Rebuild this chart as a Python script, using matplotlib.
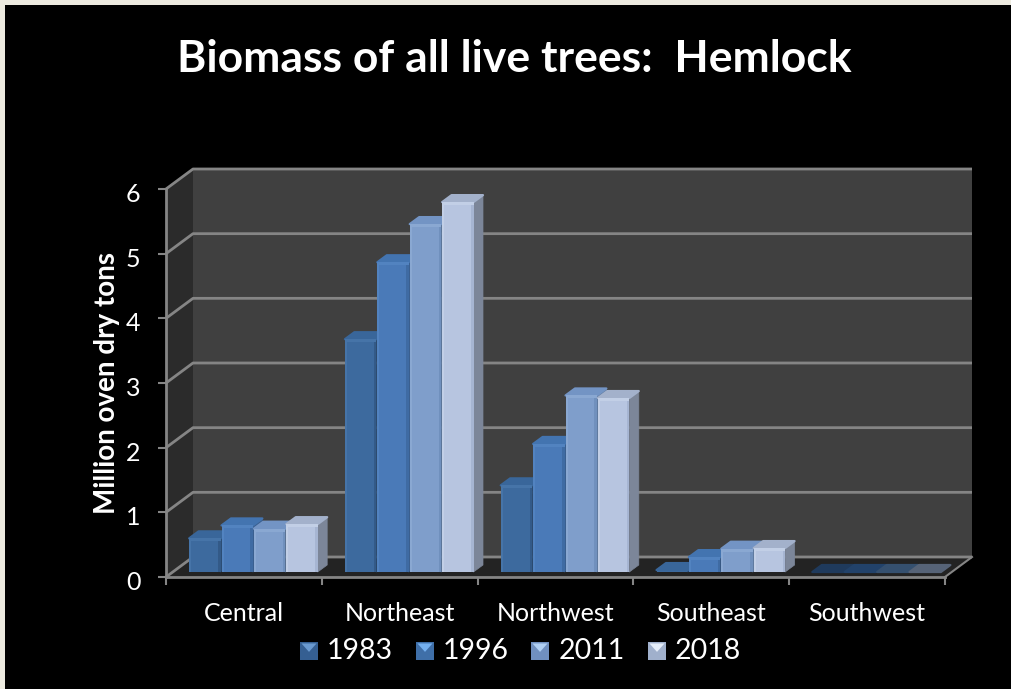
import matplotlib
matplotlib.use("Agg")
import matplotlib.pyplot as plt
from matplotlib.patches import Polygon, Rectangle
from matplotlib.transforms import ScaledTranslation

categories = ["Central", "Northeast", "Northwest", "Southeast", "Southwest"]
years = ["1983", "1996", "2011", "2018"]
v1983 = [0.52, 3.60, 1.34, 0.03, 0.0]
v1996 = [0.72, 4.79, 1.98, 0.23, 0.0]
v2011 = [0.67, 5.38, 2.73, 0.36, 0.0]
v2018 = [0.74, 5.72, 2.69, 0.37, 0.0]
series = [v1983, v1996, v2011, v2018]
yticks = [0, 1, 2, 3, 4, 5, 6]

W, H = 1011, 689
face = ["#3d6a9e", "#4a7ab8", "#7f9ecb", "#b7c5e0"]
top = ["#39669a", "#4374b0", "#7394c4", "#a3b1cb"]
side = ["#2c4d74", "#3a5f8f", "#5f7a9f", "#7c8699"]
hi = ["#4674a8", "#5283c0", "#8aa8d2", "#c2cfe6"]
lo = ["#335a88", "#3f6ba3", "#7090bd", "#a6b5d2"]
floor_top = ["#1f3a5c", "#22426a", "#35506f", "#566377"]
legend_hi = ["#6a9ad0", "#74b0f0", "#b0d0f4", "#e4ecf8"]
legend_lo = ["#355f92", "#3f6fa8", "#7090c0", "#a0b0cc"]

plt.rcParams["font.family"] = ["Lato", "DejaVu Sans"]
fig = plt.figure(figsize=(W / 100, H / 100), dpi=100, facecolor="#edebe0")


def box(x0, x1, ytop, ybot):
    return [x0 / W, 1 - ybot / H, (x1 - x0) / W, (ybot - ytop) / H]


# black slide panel
bg = fig.add_axes(box(5, 1011, 5, 689))
bg.set_facecolor("black")
bg.set_xticks([])
bg.set_yticks([])
for s in bg.spines.values():
    s.set_visible(False)

# front plane with axis scales
ax = fig.add_axes(box(166, 945, 189, 577), facecolor="none")
ax.set_xlim(0, 5)
ax.set_ylim(0, 6)
PX = 5 / 779
PY = 6 / 388
DX, DY = 27 * PX, 20 * PY

ax.add_patch(Polygon([(DX, DY), (5 + DX, DY), (5 + DX, 6 + DY), (DX, 6 + DY)],
                     fc="#404040", ec="none", clip_on=False, zorder=1))
ax.add_patch(Polygon([(0, 0), (DX, DY), (DX, 6 + DY), (0, 6)],
                     fc="#2b2b2b", ec="none", clip_on=False, zorder=1))
ax.add_patch(Polygon([(0, 0), (5, 0), (5 + DX, DY), (DX, DY)],
                     fc="#232323", ec="none", clip_on=False, zorder=1))
for t in yticks:
    ax.plot([0, DX, 5 + DX], [t, t + DY, t + DY], color="#858585", lw=2.0,
            clip_on=False, zorder=2, solid_capstyle="butt")
ax.plot([5, 5 + DX], [0, DY], color="#858585", lw=1.5, clip_on=False, zorder=2)

ax.set_xticks(range(6))
ax.set_xticklabels([])
ax.set_xticks([i + 0.5 for i in range(5)], categories, minor=True)
ax.set_yticks(yticks)
ax.tick_params(axis="x", which="major", length=6, width=1.5, color="#858585")
ax.tick_params(axis="x", which="minor", length=0, pad=18, labelsize=18, labelcolor="white")
ax.tick_params(axis="y", length=6, width=1.5, color="#858585", labelsize=18,
               labelcolor="white", pad=12.5)
for lab in ax.get_yticklabels():
    lab.set_transform(lab.get_transform() + ScaledTranslation(0, -2.5 / 72, fig.dpi_scale_trans))
for name, s in ax.spines.items():
    s.set_visible(name in ("left", "bottom"))
    s.set_color("#858585")
    s.set_linewidth(2)
ax.set_ylabel("Million oven dry tons", fontsize=20, fontweight="bold", color="white")
ax.yaxis.set_label_coords(-0.059, 0.499)

# plane the bars stand on
bx = fig.add_axes(box(175.5, 954.5, 184, 572), facecolor="none")
bx.set_xlim(0, 5)
bx.set_ylim(0, 6)
bx.axis("off")
BW = 32.4 * PX
DPX, DPY = 9.5 * PX, 7 * PY
for k, vals in enumerate(series):
    off = (k - 2) * BW + BW / 2
    xs = [i + 0.5 + off for i in range(5)]
    bx.bar(xs, vals, width=BW - 1 * PX, color=face[k], zorder=3 + k * 0.1, clip_on=False)
    for x, v in zip(xs, vals):
        x0, x1 = x - BW / 2 + 0.5 * PX, x + BW / 2 - 0.5 * PX
        z = 3 + k * 0.1
        flat = v == 0
        bx.add_patch(Polygon([(x1, 0), (x1 + DPX, DPY), (x1 + DPX, v + DPY), (x1, v)],
                             fc=side[k], ec=side[k], lw=0.5, joinstyle="round", clip_on=False, zorder=z))
        bx.add_patch(Polygon([(x0, v), (x0 + DPX, v + DPY), (x1 + DPX, v + DPY), (x1, v)],
                             fc=floor_top[k] if flat else top[k], ec=floor_top[k] if flat else top[k],
                             lw=1.6, joinstyle="round", clip_on=False, zorder=z))
        if v > 0.1:
            bx.add_patch(Rectangle((x0, 0), 2 * PX, v, fc=hi[k], ec="none", zorder=z + 0.01, clip_on=False))
            bx.add_patch(Rectangle((x1 - 2.5 * PX, 0), 2.5 * PX, v, fc=lo[k], ec="none", zorder=z + 0.01, clip_on=False))
            bx.add_patch(Rectangle((x0, v - 3 * PY), x1 - x0, 3 * PY, fc=hi[k], ec="none", zorder=z + 0.02, clip_on=False))

# title
fig.text(514.5 / W, 1 - 59 / H, "Biomass of all live trees:  Hemlock", ha="center", va="center",
         fontsize=32, fontweight="bold", color="white")

# legend
legend_x = [300, 416, 531, 648]
text_x = [327, 443, 559, 675]
for k, y in enumerate(years):
    sq = fig.add_axes(box(legend_x[k], legend_x[k] + 18, 642, 660), facecolor=face[k])
    sq.set_xlim(0, 1)
    sq.set_ylim(0, 1)
    sq.axis("off")
    sq.add_patch(Rectangle((0, 0), 1, 1, fc=legend_lo[k], ec="none"))
    sq.add_patch(Polygon([(0.08, 0.92), (0.92, 0.92), (0.5, 0.45)], fc=legend_hi[k], ec="none"))
    fig.text(text_x[k] / W, 1 - 651 / H, y, ha="left", va="center", fontsize=20.5, color="white")

fig.savefig("out.png", dpi=100, facecolor=fig.get_facecolor())
